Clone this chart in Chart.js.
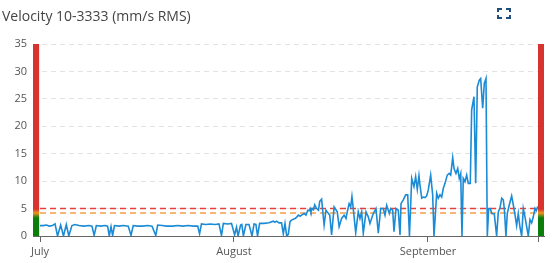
<!DOCTYPE html>
<html><head><meta charset="utf-8">
<script src="https://cdn.jsdelivr.net/npm/chart.js@4/dist/chart.umd.min.js"></script>
<style>
html,body{margin:0;padding:0;background:#fff;width:555px;height:263px;overflow:hidden}
#wrap{position:relative;width:555px;height:263px}
#title{position:absolute;left:2px;top:6px;font-family:"Open Sans",sans-serif;font-size:14px;color:#444;white-space:nowrap}
#icon{position:absolute;left:497px;top:8px;width:14px;height:11px}
#icon span{position:absolute;box-sizing:border-box;width:5px;height:4px;border:0 solid #1f4e79}
#icon .a{left:0;top:0;border-left-width:2px;border-top-width:2px}
#icon .b{right:0;top:0;border-right-width:2px;border-top-width:2px}
#icon .c{left:0;bottom:0;border-left-width:2px;border-bottom-width:2px}
#icon .d{right:0;bottom:0;border-right-width:2px;border-bottom-width:2px}
canvas{position:absolute;left:0;top:0}
</style>
</head><body>
<div id="wrap">
<canvas id="c" width="555" height="263"></canvas>
<div id="title">Velocity 10-3333 (mm/s RMS)</div>
<div id="icon"><span class="a"></span><span class="b"></span><span class="c"></span><span class="d"></span></div>
</div>
<script>
// Days counted from July 1
const julyDays = [0,0.5,1,1.5,2,2.4,2.8,3.3,3.75,4.2,4.6,5.1,5.6,6.2,7,7.8,8.3,8.65,9,9.7,10.4,10.8,11.07,11.35,11.6,11.9,12.6,13.3,14.1,14.54,14.9,15.6,16.4,17.2,17.9,18.5,18.8,19.5,20.3,21.2,22,22.8,23.7,24.5,25.2,25.5,25.8,26.5,27.2,28,28.6,29,29.3,30,30.6];
const julyValues = [1.9,1.9,2.0,1.8,1.9,2.2,0,2.0,0,2.1,0,1.9,2.1,1.9,1.8,1.9,1.8,0.1,1.9,1.8,1.9,1.8,0,1.7,0.1,1.9,1.8,1.9,1.8,0.1,1.9,1.8,1.8,1.9,1.8,0.1,2.0,1.9,1.8,1.8,1.9,1.8,1.9,1.8,1.8,0.4,2.2,2.1,2.2,2.1,2.2,0.1,2.3,2.2,2.3];

const augustDays = [31.1,31.4,31.65,32.05,32.25,32.5,32.9,33.4,33.88,34.2,34.5,34.76,35.1,35.8,36.6,37.28,37.55,37.8,38.2,38.6,38.88,39.15,39.42,39.68,39.95,40.2,40.75,41.0,41.28,41.55,41.8,42.2,42.5,42.8,43.0,43.15,43.3,43.5,43.7,43.9,44.2,44.5,44.7,45.0,45.4,45.7,45.9,46.3,46.6,47.0,47.5,47.8,48.2,48.6,48.9,49.1,49.4,49.65,49.85,50.06,50.45,50.86,51.13,51.4,51.66,52.1,52.46,52.73,53.26,53.69,54.06,54.44,54.86,55.13,55.4,55.82,56.04,56.36,56.57,56.89,57.25,57.53,57.69,58.05,58.44,58.76,59.04,59.4,59.76,60.03,60.29,60.56,60.72,61.0,61.25,61.52,61.79];
const augustValues = [0.2,1.6,0,2.0,2.1,0,2.1,2.1,0,2.2,2.1,0,2.3,2.3,2.4,2.7,2.5,2.7,2.4,2.4,0.4,2.3,0,0.3,2.6,2.9,3.2,3.4,3.8,3.6,3.8,4.1,3.8,4.7,4.6,5.0,4.4,5.0,4.8,5.7,5.0,4.7,6.3,6.7,2.0,4.7,4.4,3.8,0.2,5.3,4.4,1.7,3.2,3.8,3.2,4.4,5.9,5.3,7.2,5.0,0.6,4.4,3.2,4.4,0.5,4.4,3.5,2.3,4.1,5.0,0.5,5.0,5.0,3.8,5.6,4.1,5.0,4.7,0.8,5.0,4.7,0.2,5.9,6.6,7.5,7.5,0,10.5,9.0,10.8,8.5,11.0,9.3,6.9,7.1,7.0,7.3];

const septemberDays = [62.05,62.43,62.75,62.96,63.39,63.65,63.92,64.19,64.45,64.72,65.08,65.4,65.63,65.95,66.16,66.47,66.75,67.0,67.23,67.43,67.64,67.91,68.18,68.44,68.76,68.98,69.35,69.62,69.88,70.2,70.42,70.74,71.0,71.27,71.48,71.7,71.95,72.2,72.6,72.97,73.24,73.5,73.78,74.03,74.2,74.46,74.67,75.0,75.37,75.63,75.9,76.17,76.43,76.7,76.97,77.23,77.5,77.77,78.03,78.3,78.57,78.83,79.1,79.3,79.55];
const septemberValues = [8.4,11.1,7.5,0,7.8,6.9,7.5,7.1,8.7,9.6,11.1,11.4,11.1,14.3,12.3,11.4,12.3,10.5,11.4,0,10.5,9.9,11.1,9.6,9.6,23.0,25.4,9.6,27.2,28.4,28.7,23.3,27.8,28.7,0,5.0,5.0,4.1,4.0,0,4.4,5.1,6.9,6.6,5.0,0,4.1,5.7,7.3,5.7,3.9,1.9,4.1,1.6,0,5.0,3.5,1.7,0,3.0,2.4,3.5,5.0,4.6,5.4];

const alarmLevel = 5.0;
const warningLevel = 4.2;
const tickDays = [0, 31, 62, 79.6];
const tickLabels = ['July', 'August', 'September', ''];
const yTicks = [0,5,10,15,20,25,30,35];
const levelStops = [0, 3.3, 4.2, 4.9, 35];
const levelColors = ['#0b7d0b', '#0b7d0b', '#f0941f', '#d8332f', '#d8332f'];

const days = julyDays.concat(augustDays, septemberDays);
const values = julyValues.concat(augustValues, septemberValues);
const series = days.map((d, i) => ({x: d, y: values[i]}));
const lastDay = days[days.length - 1];

const levelBars = {
  id: 'levelBars',
  afterDatasetsDraw(chart, args, opts) {
    const {ctx, scales: {x, y}} = chart;
    const y0 = y.getPixelForValue(0), yTop = y.getPixelForValue(yTicks[yTicks.length - 1]);
    const g = ctx.createLinearGradient(0, y0, 0, yTop);
    levelStops.forEach((v, i) => g.addColorStop(v / yTicks[yTicks.length - 1], levelColors[i]));
    ctx.save();
    ctx.fillStyle = g;
    opts.ranges.forEach(([a, b]) => {
      const l = x.getPixelForValue(a), r = x.getPixelForValue(b);
      ctx.fillRect(l, yTop, r - l, y0 - yTop);
    });
    ctx.restore();
  }
};

new Chart(document.getElementById('c'), {
  type: 'line',
  data: {
    datasets: [
      {data: series, borderColor: '#1b8bd6', borderWidth: 1.6, pointRadius: 0, tension: 0, order: 0},
      {data: [{x: 0, y: alarmLevel}, {x: lastDay, y: alarmLevel}], borderColor: '#e5403c', borderWidth: 1.4, borderDash: [6, 4], pointRadius: 0, order: 1},
      {data: [{x: 0, y: warningLevel}, {x: lastDay, y: warningLevel}], borderColor: '#f4a048', borderWidth: 1.4, borderDash: [6, 4], pointRadius: 0, order: 2}
    ]
  },
  options: {
    responsive: false,
    animation: false,
    devicePixelRatio: 1,
    layout: {padding: {top: 44, right: 11, left: 0, bottom: 0}},
    plugins: {legend: {display: false}, tooltip: {enabled: false}, levelBars: {ranges: [[-1.12, -0.14], [79.58, 80.54]]}},
    scales: {
      x: {
        type: 'linear', min: -1.12, max: 80.54,
        afterBuildTicks: s => { s.ticks = tickDays.map(v => ({value: v})); },
        afterFit: s => { s.height = 27; },
        ticks: {autoSkip: false, maxRotation: 0, padding: 3, color: '#555', font: {family: 'Open Sans', size: 11},
          callback: (v) => { const i = tickDays.indexOf(v); return i >= 0 ? tickLabels[i] : ''; }},
        grid: {drawOnChartArea: false, drawTicks: true, tickLength: 6, color: '#666'},
        border: {display: true, color: '#666', width: 1}
      },
      y: {
        min: 0, max: 35,
        afterBuildTicks: s => { s.ticks = yTicks.map(v => ({value: v})); },
        afterFit: s => { s.width = 33; },
        ticks: {padding: 6, color: '#555', font: {family: 'Open Sans', size: 11}},
        grid: {drawTicks: false, color: c => c.tick && c.tick.value === 0 ? 'rgba(0,0,0,0)' : '#e2e2e2', lineWidth: 1},
        border: {display: false, dash: [5, 4]}
      }
    }
  },
  plugins: [levelBars]
});
</script>
</body></html>
